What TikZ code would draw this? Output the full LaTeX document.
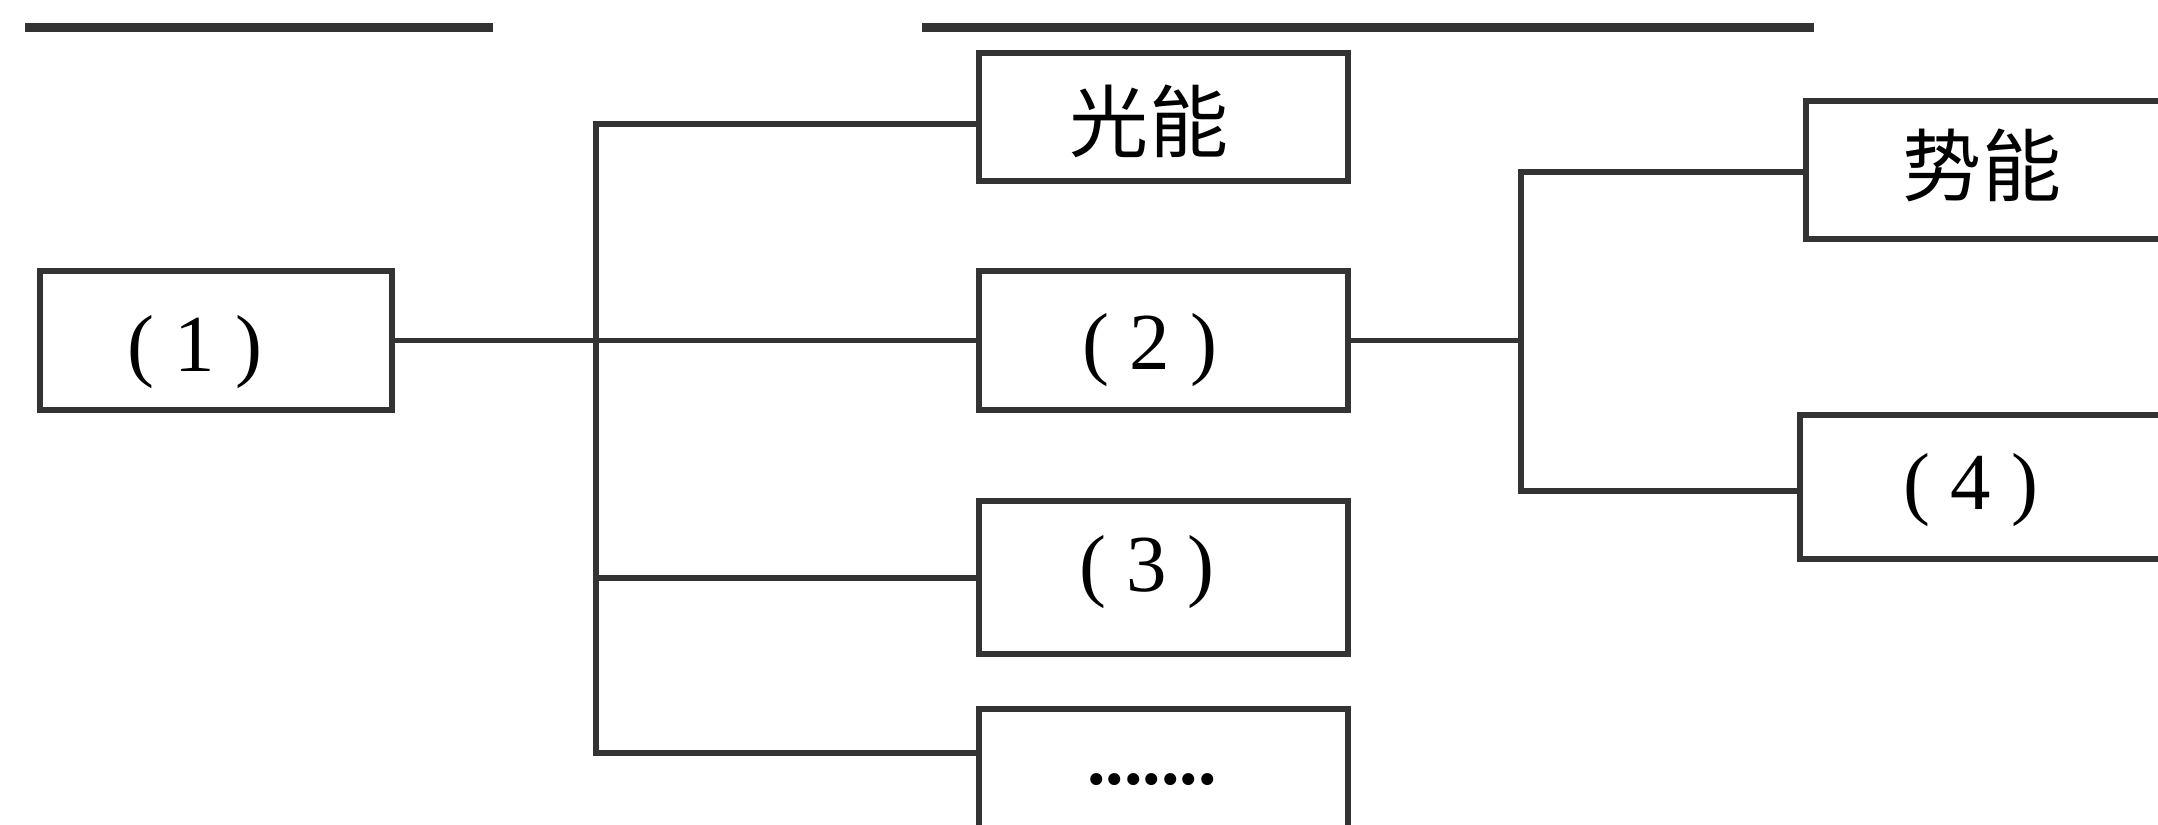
\documentclass[tikz,border=0pt]{standalone}
\usepackage{fontspec}
\setmainfont{Liberation Serif}
\newfontfamily\cjk{Noto Sans CJK SC}
\usetikzlibrary{calc}
\definecolor{ink}{HTML}{333333}
\begin{document}
\begin{tikzpicture}[x=0.01cm,y=-0.01cm,
  boxnode/.style={draw=ink, line width=1.7pt, rectangle, inner sep=0pt, anchor=north west},
  conn/.style={draw=ink, line width=1.6pt},
  topline/.style={draw=ink, line width=2.6pt},
  numtext/.style={font=\fontsize{23pt}{26pt}\selectfont, text=black, inner sep=0pt},
  cjktext/.style={font=\cjk\fontsize{22.5pt}{26pt}\selectfont, text=black, inner sep=0pt}
]
\useasboundingbox (0,0) rectangle (2158,824);
\clip (0,0) rectangle (2158,824);
\fill[white] (0,0) rectangle (2158,824);

% top answer lines
\coordinate (la) at (25,27.5);
\coordinate (lb) at (493,27.5);
\coordinate (lc) at (922,27.5);
\coordinate (ld) at (1814,27.5);
\draw[topline] (la) -- (lb);
\draw[topline] (lc) -- (ld);

% boxes
\node[boxnode, minimum width=3.52cm, minimum height=1.39cm] (b1) at (37,268) {};
\node[boxnode, minimum width=3.69cm, minimum height=1.28cm] (bg) at (976,50) {};
\node[boxnode, minimum width=3.69cm, minimum height=1.39cm] (b2) at (976,268) {};
\node[boxnode, minimum width=3.69cm, minimum height=1.53cm] (b3) at (976,498) {};
\node[boxnode, minimum width=3.69cm, minimum height=1.50cm] (bd) at (976,706) {};
\node[boxnode, minimum width=3.65cm, minimum height=1.38cm] (bs) at (1803,98) {};
\node[boxnode, minimum width=3.71cm, minimum height=1.44cm] (b4) at (1797,412) {};

% texts
\node[numtext] (t1) at (195,352) {(\hspace{0.25em}1\hspace{0.25em})};
\node[cjktext] (tg) at (1149,121) {光能};
\node[numtext] (t2) at (1150,350) {(\hspace{0.25em}2\hspace{0.25em})};
\node[numtext] (t3) at (1147,572) {(\hspace{0.25em}3\hspace{0.25em})};
\node[numtext, font=\bfseries\fontsize{21pt}{26pt}\selectfont] (td) at (1152,780) {.......};
\node[cjktext] (ts) at (1982,165) {势能};
\node[numtext] (t4) at (1971,490) {(\hspace{0.25em}4\hspace{0.25em})};

% first tree
\coordinate (jt) at (596,124);
\coordinate (j3) at (596,578);
\coordinate (jb) at (596,753);
\draw[conn] (b1.east) -- (b2.west);
\draw[conn] (jt -| bg.west) -- (jt) -- (jb) -- (jb -| bd.west);
\draw[conn] (j3) -- (j3 -| b3.west);

% second tree
\coordinate (kt) at (1521,172);
\coordinate (kb) at (1521,491);
\draw[conn] (b2.east) -- (kt |- b2.east);
\draw[conn] (kt -| bs.west) -- (kt) -- (kb) -- (kb -| b4.west);
\end{tikzpicture}
\end{document}
